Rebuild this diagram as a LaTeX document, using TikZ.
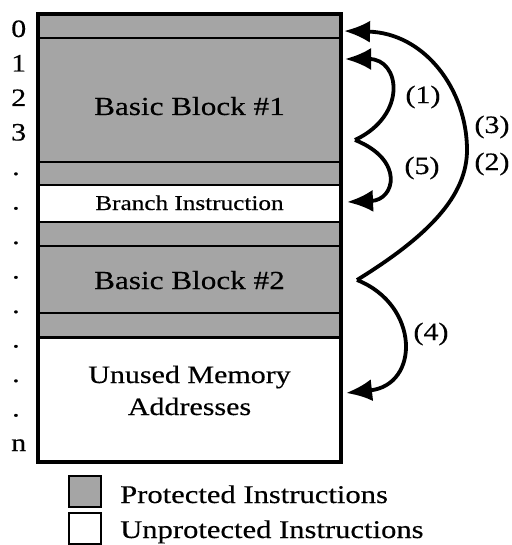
\documentclass[tikz,border=0pt]{standalone}
\usepackage{fontspec}
\setmainfont{Liberation Serif}[FakeStretch=1.2,FakeBold=0.4]
\usetikzlibrary{arrows.meta}
\definecolor{pgray}{RGB}{165,165,165}
\tikzset{
  rowbox/.style={draw=black, line width=2pt, minimum width=303pt, inner sep=0pt, outer sep=0pt},
  prot/.style={rowbox, fill=pgray},
  unprot/.style={rowbox, fill=white},
  addr/.style={anchor=base west, inner sep=0pt, font=\fontsize{25}{30}\selectfont},
  blocktxt/.style={anchor=base, inner sep=0pt, font=\fontsize{26}{30}\selectfont},
  arrlbl/.style={inner sep=0pt, font=\fontsize{25}{30}\selectfont},
  legtxt/.style={anchor=base west, inner sep=0pt, font=\fontsize{25.5}{30}\selectfont},
  legbox/.style={draw=black, line width=2pt, minimum width=32pt, minimum height=31pt, inner sep=0pt},
  jump/.style={line width=3.8pt, -{Latex[length=26pt,width=22pt]}}
}
\begin{document}
\begin{tikzpicture}[x=1pt,y=-1pt]
\useasboundingbox (0,0) rectangle (511,545);
% memory rows
\node[prot,   minimum height=24.5pt] (r0)  at (189.5,26.25) {};
\node[prot,   minimum height=123.5pt] (bb1) at (189.5,100.25) {};
\node[prot,   minimum height=23pt]  (g1)  at (189.5,173.5) {};
\node[unprot, minimum height=37pt]  (br)  at (189.5,203.5) {};
\node[prot,   minimum height=24pt]  (g2)  at (189.5,234) {};
\node[prot,   minimum height=67pt]  (bb2) at (189.5,279.5) {};
\node[prot,   minimum height=24pt]  (g3)  at (189.5,325) {};
\node[unprot, minimum height=125pt] (un)  at (189.5,399.5) {};
\draw[line width=3pt] (g3.south west) -- (g3.south east);
\draw[line width=4pt] (38,14) rectangle (341,462);
% texts in rows
\node[blocktxt] (t1) at (189.5,115) {Basic Block \#1};
\node[blocktxt, font=\fontsize{21}{25}\selectfont] (t2) at (189.5,210) {Branch Instruction};
\node[blocktxt] (t3) at (189.5,289) {Basic Block \#2};
\node[blocktxt, font=\fontsize{25}{30}\selectfont] (t4) at (189.5,383) {Unused Memory};
\node[blocktxt, font=\fontsize{25}{30}\selectfont] (t5) at (189.5,415) {Addresses};
% address labels
\node[addr] (a0) at (11,37) {0};
\node[addr] (a1) at (11,71.5) {1};
\node[addr] (a2) at (11,106) {2};
\node[addr] (a3) at (11,140.5) {3};
\node[addr] (a4) at (12,175) {.};
\node[addr] (a5) at (12,209.5) {.};
\node[addr] (a6) at (12,244) {.};
\node[addr] (a7) at (12,278.5) {.};
\node[addr] (a8) at (12,313) {.};
\node[addr] (a9) at (12,347.5) {.};
\node[addr] (a10) at (12,382) {.};
\node[addr] (a11) at (12,416.5) {.};
\node[addr] (a12) at (11,451) {n};
% arrow end points
\coordinate (cA) at (355,140);
\coordinate (cB) at (357,280);
\coordinate (e1) at (345,59);
\coordinate (e5) at (347,202);
\coordinate (e3) at (344,31);
\coordinate (e4) at (346,393);
\coordinate (mB) at (467,150);
\draw[jump] (cA) .. controls (408,115) and (400,59) .. (e1);
\draw[jump] (cA) .. controls (405,160) and (395,200) .. (e5);
\draw[jump] (cB) .. controls (430,235) and (467,195) .. (mB) .. controls (467,90) and (425,33) .. (e3);
\draw[jump] (cB) .. controls (420,305) and (420,385) .. (e4);
% arrow labels
\node[arrlbl] (l1) at (423,97) {(1)};
\node[arrlbl] (l5) at (422,168) {(5)};
\node[arrlbl] (l3) at (492,127) {(3)};
\node[arrlbl] (l2) at (492,164) {(2)};
\node[arrlbl] (l4) at (431,334) {(4)};
% legend
\node[legbox, fill=pgray] (kp) at (85,491.5) {};
\node[legbox, fill=white] (ku) at (85,528) {};
\node[legtxt] (kpt) at (120,503) {Protected Instructions};
\node[legtxt] (kut) at (120,538) {Unprotected Instructions};
\end{tikzpicture}
\end{document}
